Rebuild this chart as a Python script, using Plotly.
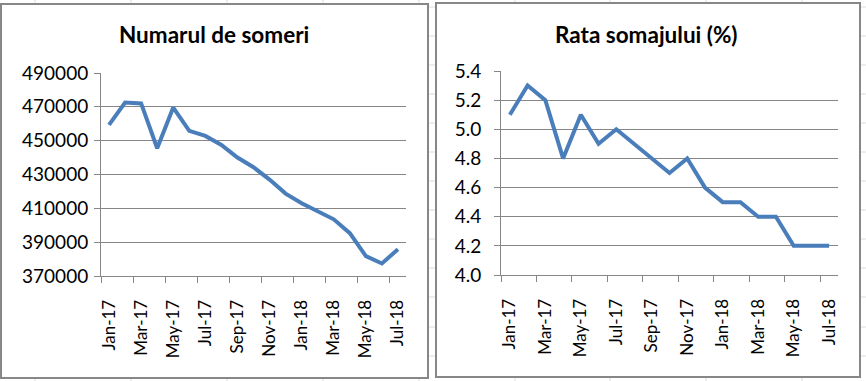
import plotly.graph_objects as go

months = ["Jan-17", "Feb-17", "Mar-17", "Apr-17", "May-17", "Jun-17", "Jul-17", "Aug-17",
          "Sep-17", "Oct-17", "Nov-17", "Dec-17", "Jan-18", "Feb-18", "Mar-18", "Apr-18",
          "May-18", "Jun-18", "Jul-18"]
someri = [459300, 472500, 472000, 445500, 469600, 455800, 452800, 447500, 440000, 434300,
          427000, 418700, 413000, 408000, 403500, 395300, 381800, 377400, 385800]
rata = [5.1, 5.3, 5.2, 4.8, 5.1, 4.9, 5.0, 4.9, 4.8, 4.7, 4.8, 4.6, 4.5, 4.5, 4.4, 4.4,
        4.2, 4.2, 4.2]
title_left = "Numarul de someri"
title_right = "Rata somajului (%)"

W, H = 866, 381
FONT = "Lato"
LINE_COLOR = "#4A7EBB"
GRID = "#868686"


def px(x):
    return x / W


def py(y):
    return 1 - y / H


fig = go.Figure()
fig.add_trace(go.Scatter(x=months, y=someri, mode="lines", xaxis="x", yaxis="y",
                         line=dict(color=LINE_COLOR, width=4), showlegend=False,
                         hoverinfo="skip"))
fig.add_trace(go.Scatter(x=months, y=rata, mode="lines", xaxis="x2", yaxis="y2",
                         line=dict(color=LINE_COLOR, width=4), showlegend=False,
                         hoverinfo="skip"))

shapes = []
# spreadsheet cell grid in the background
for cx in [35, 131, 227, 323, 419, 515, 610, 706, 802]:
    shapes.append(dict(type="line", xref="paper", yref="paper", x0=px(cx), x1=px(cx),
                       y0=0, y1=1, line=dict(color="#DADCDD", width=1), layer="below"))
for ry in [7, 36, 65, 94, 123, 152, 181, 210, 239, 268, 297, 327, 356]:
    shapes.append(dict(type="line", xref="paper", yref="paper", x0=0, x1=1,
                       y0=py(ry), y1=py(ry), line=dict(color="#DADCDD", width=1), layer="below"))
# chart boxes
for (x0, y0, x1, y1) in [(1, 4, 428, 378), (436, 3, 860, 377)]:
    shapes.append(dict(type="rect", xref="paper", yref="paper", x0=px(x0), x1=px(x1),
                       y0=py(y1), y1=py(y0), fillcolor="white",
                       line=dict(color="#878787", width=2), layer="below"))

axis_common = dict(showline=True, linecolor=GRID, linewidth=1, ticks="outside",
                   ticklen=6, tickcolor=GRID, automargin=False)
yfont = dict(family=FONT, size=19, color="black")
xfont = dict(family=FONT, size=17, color="black")

fig.update_layout(
    width=W, height=H,
    margin=dict(l=0, r=0, t=0, b=0, autoexpand=False),
    paper_bgcolor="white",
    plot_bgcolor="rgba(0,0,0,0)",
    shapes=shapes,
    xaxis=dict(domain=[px(101), px(406)], anchor="y", type="category",
               categoryorder="array", categoryarray=months,
               range=[-0.5, len(months) - 0.5], dtick=2, tickson="boundaries",
               tickangle=-90, showgrid=False, ticklabelstandoff=16, tickfont=xfont,
               **axis_common),
    yaxis=dict(domain=[py(276), py(73)], anchor="x", range=[370000, 490000],
               tick0=370000, dtick=20000, tickfont=yfont,
               tickformat="d", showgrid=True, gridcolor=GRID, gridwidth=1,
               zeroline=False, ticklabelstandoff=2, **axis_common),
    xaxis2=dict(domain=[px(501), px(838)], anchor="y2", type="category",
                categoryorder="array", categoryarray=months,
                range=[-0.5, len(months) - 0.5], dtick=2, tickson="boundaries",
                tickangle=-90, showgrid=False, ticklabelstandoff=16, tickfont=xfont,
                **axis_common),
    yaxis2=dict(domain=[py(275), py(71)], anchor="x2", range=[4.0, 5.4],
                tick0=4.0, dtick=0.2, tickfont=yfont,
                tickformat=".1f", showgrid=True, gridcolor=GRID, gridwidth=1,
                zeroline=False, ticklabelstandoff=9, **axis_common),
    annotations=[
        dict(text="<b>" + title_left + "</b>", xref="paper", yref="paper",
             x=px(214), y=py(34), xanchor="center", yanchor="middle", showarrow=False,
             font=dict(family=FONT, size=22.5, color="black")),
        dict(text="<b>" + title_right + "</b>", xref="paper", yref="paper",
             x=px(646), y=py(34), xanchor="center", yanchor="middle", showarrow=False,
             font=dict(family=FONT, size=22.5, color="black")),
    ],
)

fig.write_html("out.html", config={"displayModeBar": False},
               post_script="document.body.style.margin='0';")
